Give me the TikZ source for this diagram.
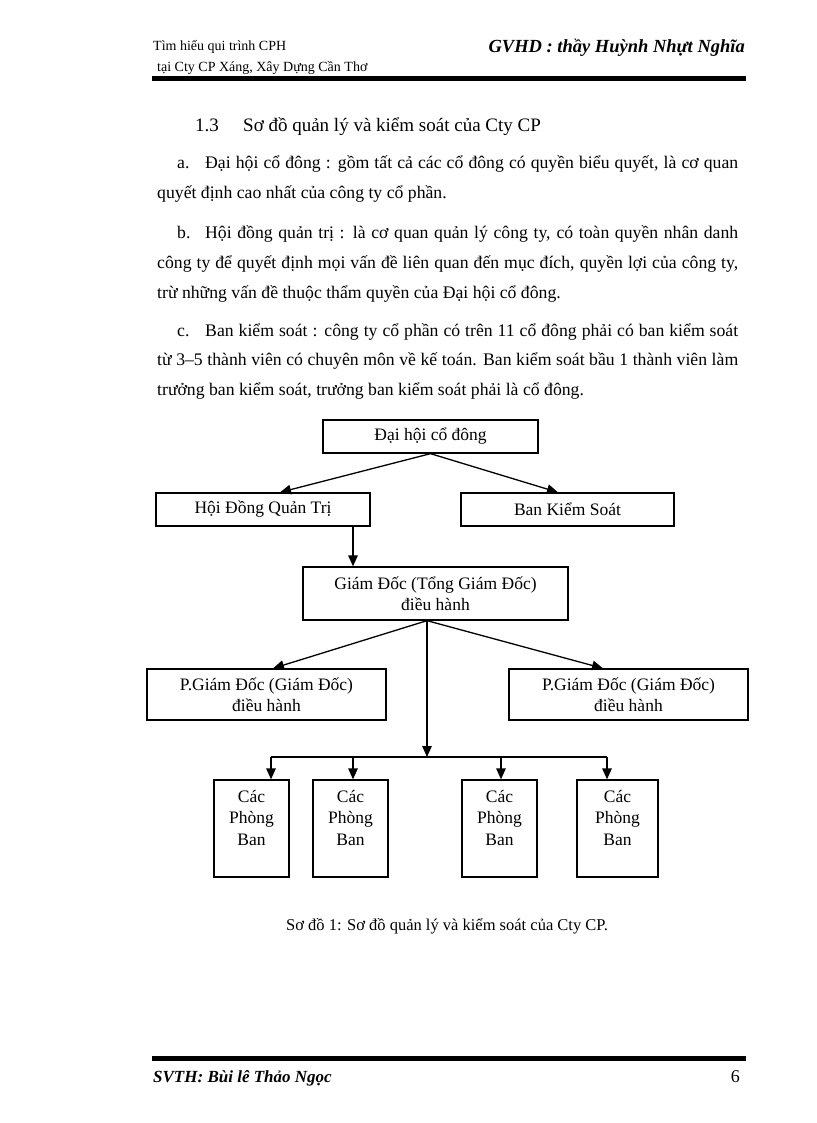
\documentclass[tikz,border=0pt]{standalone}
\usepackage{fontspec}
\setmainfont{Liberation Serif}
\usetikzlibrary{positioning, arrows.meta}
\tikzset{khung/.style={draw, rectangle, line width=1.3pt, align=center, inner sep=0pt,
                       font=\fontsize{17.5}{21.5}\selectfont},
         mui/.style={-{Triangle[length=11pt,width=9.5pt]}, line width=1.3pt},
         dong/.style={anchor=base west, inner sep=0pt, font=\fontsize{17.7}{30}\selectfont}}

\begin{document}
\begin{tikzpicture}[x=1pt, y=-1pt]
        \useasboundingbox (0,0) rectangle (816,1123);
        % Header
        \node[anchor=base west, inner sep=0pt, font=\fontsize{14}{16}\selectfont] (dau1) at (153,51) {Tìm hiểu qui trình CPH};
        \node[anchor=base west, inner sep=0pt, font=\fontsize{14}{16}\selectfont] (dau2) at (157,72) {tại Cty CP Xáng, Xây Dựng Cần Thơ};
        \node[anchor=base east, inner sep=0pt, font=\bfseries\itshape\fontsize{18.5}{21}\selectfont] (gvhd) at (745,53) {GVHD : thầy Huỳnh Nhựt Nghĩa};
        \fill (152,76) rectangle (746,81);

        % Text
        \node[dong, font=\fontsize{19}{30}\selectfont] (tieude) at (195,132) {\makebox[48pt][l]{1.3}Sơ đồ quản lý và kiểm soát của Cty CP};
        \node[dong] (a1) at (177,169) {\makebox[561pt][s]{\makebox[28pt][l]{a.}Đại hội cổ đông : gồm tất cả các cổ đông có quyền biểu quyết, là cơ quan}};
        \node[dong] (a2) at (157,199) {quyết định cao nhất của công ty cổ phần.};
        \node[dong] (b1) at (177,238) {\makebox[561pt][s]{\makebox[28pt][l]{b.}Hội đồng quản trị : là cơ quan quản lý công ty, có toàn quyền nhân danh}};
        \node[dong] (b2) at (157,268) {\makebox[581pt][s]{công ty để quyết định mọi vấn đề liên quan đến mục đích, quyền lợi của công ty,}};
        \node[dong] (b3) at (157,298) {trừ những vấn đề thuộc thẩm quyền của Đại hội cổ đông.};
        \node[dong] (c1) at (177,336) {\makebox[561pt][s]{\makebox[28pt][l]{c.}Ban kiểm soát : công ty cổ phần có trên 11 cổ đông phải có ban kiểm soát}};
        \node[dong] (c2) at (157,365) {\makebox[581pt][s]{từ 3–5 thành viên có chuyên môn về kế toán. Ban kiểm soát bầu 1 thành viên làm}};
        \node[dong] (c3) at (157,395) {trưởng ban kiểm soát, trưởng ban kiểm soát phải là cổ đông.};

        % Nodes
        \node[khung, minimum width=215pt, minimum height=33pt] (dhcd) at (430.5,436.5) {Đại hội cổ đông};
        \node[khung, minimum width=214pt, minimum height=33pt] (hdqt) at (263,509.5) {Hội Đồng Quản Trị};
        \node[khung, minimum width=213pt, minimum height=33pt] (bks) at (567.5,509.5) {Ban Kiểm Soát};
        \node[khung, minimum width=265pt, minimum height=53pt] (gd) at (435.5,593.5) {Giám Đốc (Tổng Giám Đốc)\\điều hành};
        \node[khung, minimum width=239pt, minimum height=51pt] (pgd1) at (266.5,694.5) {P.Giám Đốc (Giám Đốc)\\điều hành};
        \node[khung, minimum width=239pt, minimum height=51pt] (pgd2) at (628.5,694.5) {P.Giám Đốc (Giám Đốc)\\điều hành};
        \node[khung, minimum width=75pt, minimum height=97pt] (cpb1) at (251.5,828.5) {Các\\Phòng\\Ban\\\mbox{}};
        \node[khung, minimum width=75pt, minimum height=97pt] (cpb2) at (350.5,828.5) {Các\\Phòng\\Ban\\\mbox{}};
        \node[khung, minimum width=75pt, minimum height=97pt] (cpb3) at (499.5,828.5) {Các\\Phòng\\Ban\\\mbox{}};
        \node[khung, minimum width=81pt, minimum height=97pt] (cpb4) at (617.5,828.5) {Các\\Phòng\\Ban\\\mbox{}};
        \coordinate (nhanh) at (427,757);

        % Edges
        \draw[mui] (dhcd.south) -- ([xshift=17pt]hdqt.north);
        \draw[mui] (dhcd.south) -- ([xshift=-9.5pt]bks.north);
        \draw[mui] ([xshift=90pt]hdqt.south) -- ([xshift=90pt]hdqt.south |- gd.north);
        \draw[mui] ([xshift=-8.5pt]gd.south) -- ([xshift=6.5pt]pgd1.north);
        \draw[mui] ([xshift=-8.5pt]gd.south) -- ([xshift=-25.5pt]pgd2.north);
        \draw[mui] ([xshift=-8.5pt]gd.south) -- (nhanh);
        \draw[line width=1.3pt] ([xshift=19.5pt]cpb1.north |- nhanh) -- ([xshift=-10.5pt]cpb4.north |- nhanh);
        \foreach \n/\d in {cpb1/19.5, cpb2/2.5, cpb3/1.5, cpb4/-10.5}
            \draw[mui] ([xshift=\d pt]\n.north |- nhanh) -- ([xshift=\d pt]\n.north);

        % Caption and footer
        \node[anchor=base, inner sep=0pt, font=\fontsize{16.5}{19}\selectfont] (chuthich) at (447,930) {Sơ đồ 1: Sơ đồ quản lý và kiểm soát của Cty CP.};
        \fill (152,1056) rectangle (746,1061);
        \node[anchor=base west, inner sep=0pt, font=\bfseries\itshape\fontsize{17}{19}\selectfont] (svth) at (153,1082) {SVTH: Bùi lê Thảo Ngọc};
        \node[anchor=base east, inner sep=0pt, font=\fontsize{18}{20}\selectfont] (trang) at (740,1082) {6};
    \end{tikzpicture}
\end{document}
